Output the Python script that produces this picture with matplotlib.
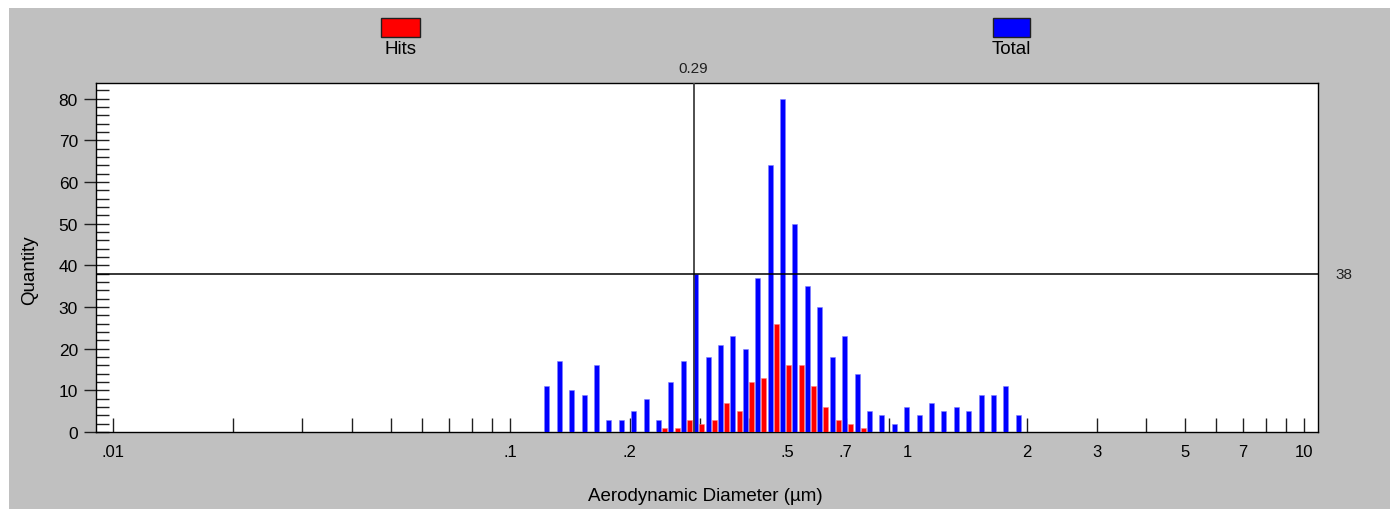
import matplotlib
matplotlib.use("Agg")
import matplotlib.pyplot as plt
from matplotlib.patches import Rectangle
from matplotlib.ticker import FixedLocator, FixedFormatter, MultipleLocator
import numpy as np

plt.rcParams['font.family'] = ['Liberation Sans', 'DejaVu Sans']

# channel mid-point diameters (um)
diameters = [0.1216, 0.1306, 0.1404, 0.1509, 0.1621, 0.1742, 0.1872, 0.2012, 0.2162, 0.2323,
             0.2496, 0.2683, 0.2883, 0.3098, 0.3329, 0.3577, 0.3844, 0.4131, 0.4439, 0.4770,
             0.5126, 0.5509, 0.5920, 0.6361, 0.6836, 0.7346, 0.7894, 0.8482, 0.9115, 0.9796,
             1.0527, 1.1312, 1.2156, 1.3063, 1.4037, 1.5085, 1.6210, 1.7419, 1.8719]
total = [11, 17, 10, 9, 16, 3, 3, 5, 8, 3,
         12, 17, 38, 18, 21, 23, 20, 37, 64, 80,
         50, 35, 30, 18, 23, 14, 5, 4, 2, 6,
         4, 7, 5, 6, 5, 9, 9, 11, 4]
hits = [0, 0, 0, 0, 0, 0, 0, 0, 0, 0,
        1, 1, 3, 2, 3, 7, 5, 12, 13, 26,
        16, 16, 11, 6, 3, 2, 1, 0, 0, 0,
        0, 0, 0, 0, 0, 0, 0, 0, 0]

cursor_x = 0.29
cursor_y = 38

xtick_vals = [m * 10.0 ** e for e in (-2, -1, 0) for m in range(1, 10)] + [10.0]
xtick_text = {0.01: '.01', 0.1: '.1', 0.2: '.2', 0.5: '.5', 0.7: '.7',
              1.0: '1', 2.0: '2', 3.0: '3', 5.0: '5', 7.0: '7', 10.0: '10'}

W, H = 1390, 510
fig = plt.figure(figsize=(W / 100, H / 100), dpi=100)
fig.patch.set_facecolor('white')
fig.add_artist(Rectangle((9 / W, 0), 1, 1 - 9 / H, transform=fig.transFigure,
                         facecolor='#c0c0c0', edgecolor='none', zorder=-10))

ax = fig.add_axes([96 / W, (H - 433) / H, (1318 - 96) / W, (433 - 84) / H])
ax.set_facecolor('white')
ax.set_xscale('log')
ax.set_xlim(10 ** -2.043, 10 ** 1.035)
ax.set_ylim(0, 83.8)

d = np.array(diameters)
gap = 0.6 / 397
bw = 5.0 / 397
r_left = d * 10 ** (-gap - bw)
r_right = d * 10 ** (-gap)
b_left = d * 10 ** gap
b_right = d * 10 ** (gap + bw)
ax.bar(r_left, hits, width=r_right - r_left, align='edge', color='#ff0000',
       edgecolor='#ff8080', linewidth=0.4, zorder=3)
ax.bar(b_left, total, width=b_right - b_left, align='edge', color='#0000ff',
       edgecolor='#8080ff', linewidth=0.4, zorder=3)

ax.axvline(cursor_x, color='#404040', lw=1.3, zorder=4)
ax.axhline(cursor_y, color='black', lw=1.1, zorder=4)
ax.annotate(f'{cursor_x:.2f}', xy=(cursor_x, 1), xycoords=('data', 'axes fraction'),
            xytext=(0, 11), textcoords='offset points', ha='center', va='center',
            fontsize=11, color='#202020')
ax.annotate(f'{cursor_y}', xy=(1, cursor_y), xycoords=('axes fraction', 'data'),
            xytext=(19, 0), textcoords='offset points', ha='center', va='center',
            fontsize=11, color='#202020')

ax.xaxis.set_major_locator(FixedLocator(xtick_vals))
ax.xaxis.set_major_formatter(FixedFormatter([xtick_text.get(round(v, 4), '') for v in xtick_vals]))
ax.xaxis.set_minor_locator(FixedLocator([]))
ax.tick_params(axis='x', which='major', direction='in', length=10, width=1,
               color='#202020', labelsize=12, pad=9)

ax.yaxis.set_major_locator(MultipleLocator(10))
ax.yaxis.set_minor_locator(MultipleLocator(2))
ax.tick_params(axis='y', which='major', direction='inout', length=18, width=1,
               color='#202020', labelsize=12.5, pad=4)
ax.tick_params(axis='y', which='minor', direction='in', length=9, width=1, color='#202020')

for s in ax.spines.values():
    s.set_color('black')
    s.set_linewidth(1)

fig.text(30 / W, 1 - 270 / H, 'Quantity', rotation=90, ha='center', va='center', fontsize=13.5)
fig.text(705 / W, 1 - 497 / H, 'Aerodynamic Diameter (\u00b5m)', ha='center', va='center', fontsize=13.5)

# legend swatches
for x0, x1, col, lab in [(381, 420, '#ff0000', 'Hits'), (993, 1030, '#0000ff', 'Total')]:
    fig.add_artist(Rectangle((x0 / W, 1 - 38 / H), (x1 - x0) / W, 19 / H,
                             transform=fig.transFigure, facecolor=col, edgecolor='#202020', lw=1))
    fig.text((x0 + x1) / 2 / W, 1 - 50 / H, lab, ha='center', va='center', fontsize=13.5)

fig.savefig('out.png', dpi=100, facecolor=fig.get_facecolor())
